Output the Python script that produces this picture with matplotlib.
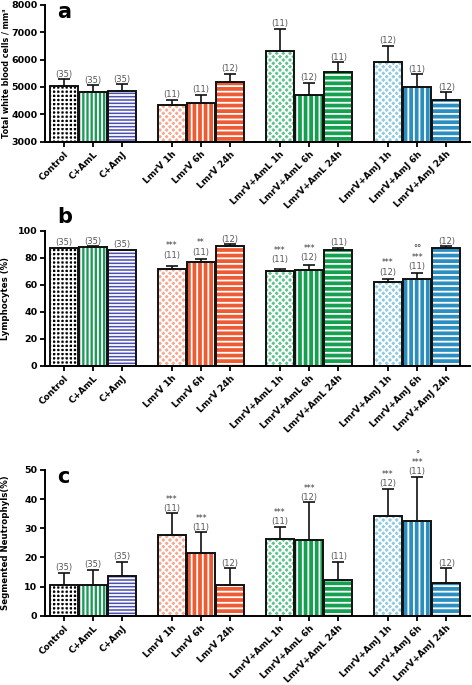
import matplotlib
matplotlib.use("Agg")
import matplotlib.pyplot as plt
import numpy as np

labels = ["Control", "C+AmL", "C+AmJ",
          "LmrV 1h", "LmrV 6h", "LmrV 24h",
          "LmrV+AmL 1h", "LmrV+AmL 6h", "LmrV+AmL 24h",
          "LmrV+AmJ 1h", "LmrV+AmJ 6h", "LmrV+AmJ 24h"]
group_of = [0, 0, 0, 1, 1, 1, 2, 2, 2, 3, 3, 3]
n_labels = ["(35)", "(35)", "(35)", "(11)", "(11)", "(12)",
            "(11)", "(12)", "(11)", "(12)", "(11)", "(12)"]

# panel a: total white blood cells
wbc = [5050, 4800, 4850, 4330, 4400, 5170, 6320, 4720, 5540, 5900, 5000, 4510]
wbc_err = [230, 260, 250, 200, 320, 310, 800, 430, 360, 590, 460, 290]

# panel b: lymphocytes
lym = [87, 88, 85.5, 72, 77, 89, 70.5, 71, 86, 62, 64.5, 87.5]
lym_err = [0.6, 0.6, 0.6, 2.2, 2.0, 1.0, 1.0, 4.0, 1.5, 2.5, 4.0, 1.0]
lym_sig = ["", "", "", "***", "**", "", "***", "***", "", "***", "***", ""]
lym_deg = ["", "", "", "", "", "", "", "", "", "", "\u00b0\u00b0", ""]

# panel c: segmented neutrophils
neu = [10.7, 10.4, 13.5, 27.6, 21.4, 10.7, 26.3, 25.9, 12.3, 34.2, 32.5, 11.4]
neu_err = [4.1, 5.3, 5.1, 7.5, 7.2, 5.6, 4.1, 13.0, 6.2, 9.2, 15.1, 4.9]
neu_sig = ["", "", "", "***", "***", "", "***", "***", "", "***", "***", ""]
neu_deg = ["", "", "", "", "", "", "", "", "", "", "\u00b0", ""]

colors = ["black", "#1f9a5a", "#4b4fb0",
          "#ee5a32", "#ee5a32", "#ee5a32",
          "#13a04f", "#13a04f", "#13a04f",
          "#2a8ec0", "#2a8ec0", "#2a8ec0"]
face_1h = {3: "#f6a890", 6: "#5cc48a", 9: "#8ccbe3"}
hatches = ["++++", "||||", "-----",
           "xxxxx", "|||", "---",
           "xxxxx", "|||", "---",
           "xxxxx", "|||", "---"]

plt.rcParams["hatch.linewidth"] = 1.3
x = np.array([g * 3.7 + (i % 3) for i, g in enumerate(group_of)])

fig = plt.figure(figsize=(4.72, 6.85), dpi=100)
ax_a = fig.add_axes([0.095, 0.793, 0.9, 0.2])
ax_b = fig.add_axes([0.095, 0.466, 0.9, 0.197])
ax_c = fig.add_axes([0.095, 0.101, 0.9, 0.213])


def draw_panel(ax, vals, errs, sig, deg, ylim, yticks, ylabel, letter, letter_pos, n_off, s_off):
    for i in range(len(vals)):
        fc = face_1h.get(i, colors[i])
        ax.bar(x[i], vals[i] - ylim[0], bottom=ylim[0], width=0.95, color=fc,
               edgecolor="white", hatch=hatches[i], linewidth=0)
        ax.bar(x[i], vals[i] - ylim[0], bottom=ylim[0], width=0.95, facecolor="none",
               edgecolor="#111111", linewidth=1.4)
    ax.errorbar(x, vals, yerr=[np.zeros(len(vals)), errs], fmt="none",
                ecolor="#111111", elinewidth=1.2, capsize=4.5, capthick=1.2)
    for i in range(len(vals)):
        top = vals[i] + errs[i]
        off = n_off[i] if isinstance(n_off, list) else n_off
        ax.annotate(n_labels[i], (x[i], top), xytext=(0, off), textcoords="offset points",
                    ha="center", va="bottom", fontsize=6, color="#555555")
        if sig and sig[i]:
            ax.annotate(sig[i], (x[i], top), xytext=(0, off + s_off), textcoords="offset points",
                        ha="center", va="bottom", fontsize=5.5, color="#333333")
        if deg and deg[i]:
            ax.annotate(deg[i], (x[i], top), xytext=(0, off + 2 * s_off - 1), textcoords="offset points",
                        ha="center", va="bottom", fontsize=6, color="#333333")
    ax.set_xlim(-0.65, 13.9)
    ax.set_ylim(*ylim)
    ax.set_yticks(yticks)
    ax.set_xticks(x)
    ax.set_xticklabels(labels, rotation=45, ha="right", rotation_mode="anchor",
                       fontsize=6.4, fontweight="bold")
    for t in ax.get_yticklabels():
        t.set_fontweight("bold")
        t.set_fontsize(6.8)
    ax.tick_params(width=1.3, length=3.5, pad=2)
    ax.spines["top"].set_visible(False)
    ax.spines["right"].set_visible(False)
    ax.spines["left"].set_linewidth(1.4)
    ax.spines["bottom"].set_linewidth(1.4)
    ax.set_ylabel(ylabel, fontsize=6.2, fontweight="bold")
    ax.yaxis.set_label_coords(-0.082, 0.5)
    ax.text(letter_pos[0], letter_pos[1], letter, transform=ax.transAxes,
            fontsize=15, fontweight="bold", va="top")


draw_panel(ax_a, wbc, wbc_err, None, None, (3000, 8000),
           [3000, 4000, 5000, 6000, 7000, 8000],
           "Total white blood cells / mm\u00b3", "a", (0.03, 1.02), 0.5, 0)
ax_a.yaxis.label.set_fontsize(5.8)
b_off = [0.5, 0.5, 0.5, 4, 1.5, 0.5, 3.5, 1.5, 0.5, 1.5, 1.5, 0.5]
draw_panel(ax_b, lym, lym_err, lym_sig, lym_deg, (0, 100),
           [0, 20, 40, 60, 80, 100], "Lymphocytes (%)", "b", (0.03, 1.18), b_off, 7)
draw_panel(ax_c, neu, neu_err, neu_sig, neu_deg, (0, 50),
           [0, 10, 20, 30, 40, 50], "Segmented Neutrophyls(%)", "c", (0.03, 1.02), 0.5, 6.5)

fig.savefig("out.png", dpi=100)
